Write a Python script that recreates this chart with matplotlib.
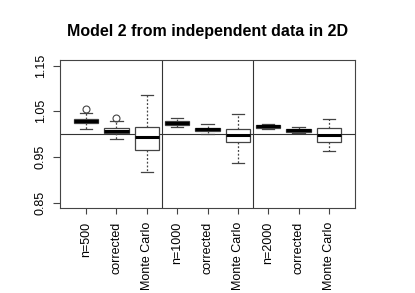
import matplotlib
matplotlib.use("Agg")
import matplotlib.pyplot as plt

plt.rcParams['font.family'] = ['Liberation Sans', 'DejaVu Sans']

# Boxplot statistics
labels = ["n=500", "corrected", "Monte Carlo",
          "n=1000", "corrected", "Monte Carlo",
          "n=2000", "corrected", "Monte Carlo"]
whislo = [1.011, 0.989, 0.916, 1.015, 1.001, 0.937, 1.010, 1.002, 0.963]
q1 = [1.025, 1.002, 0.965, 1.020, 1.006, 0.982, 1.014, 1.005, 0.982]
med = [1.029, 1.007, 0.993, 1.025, 1.010, 0.998, 1.017, 1.008, 0.999]
q3 = [1.034, 1.014, 1.015, 1.029, 1.013, 1.010, 1.020, 1.010, 1.014]
whishi = [1.046, 1.029, 1.086, 1.036, 1.023, 1.043, 1.023, 1.015, 1.033]
fliers = [[1.054], [1.036], [], [], [], [], [], [], []]

yticks = [0.85, 0.95, 1.05, 1.15]

stats = []
for i in range(len(labels)):
    stats.append(dict(label=labels[i], whislo=whislo[i], q1=q1[i], med=med[i],
                      q3=q3[i], whishi=whishi[i], fliers=fliers[i]))

fig = plt.figure(figsize=(4.15, 2.93), dpi=100)
ax = fig.add_axes([0.1446, 0.290, 0.7108, 0.505])

ax.bxp(stats, positions=range(1, 10), widths=0.8, capwidths=0.4,
       patch_artist=True,
       boxprops=dict(facecolor='white', edgecolor='#444444', linewidth=0.9),
       medianprops=dict(color='black', linewidth=2.2),
       whiskerprops=dict(color='#444444', linestyle=(0, (1.5, 1.5)), linewidth=0.9),
       capprops=dict(color='#444444', linewidth=0.9),
       flierprops=dict(marker='o', markerfacecolor='none', markeredgecolor='#444444',
                       markersize=5, markeredgewidth=0.8))

ax.axhline(1.0, color='#333333', linewidth=0.8, zorder=0)
ax.axvline(3.5, color='#333333', linewidth=0.8)
ax.axvline(6.5, color='#333333', linewidth=0.8)

ax.set_xlim(0.14, 9.86)
ax.set_ylim(0.838, 1.162)
ax.set_yticks(yticks)
ax.set_yticklabels([f"{v:.2f}" for v in yticks], rotation=90, va='center', fontsize=9)
ax.set_xticks(range(1, 10))
ax.set_xticklabels(labels, rotation=90, fontsize=9)
ax.tick_params(axis='x', length=4, width=0.8, color='#444444', pad=6)
ax.tick_params(axis='y', length=4.8, width=0.8, color='#444444', pad=4.8)

for s in ax.spines.values():
    s.set_color('#444444')
    s.set_linewidth(0.8)

ax.set_title("Model 2 from independent data in 2D", fontsize=11.5, fontweight='bold', pad=17)

fig.savefig("out.png", dpi=100)
